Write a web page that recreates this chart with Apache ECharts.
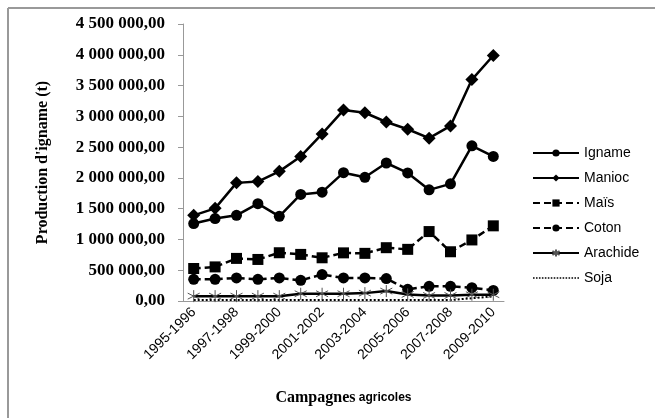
<!DOCTYPE html>
<html>
<head>
<meta charset="utf-8">
<script src="https://cdn.jsdelivr.net/npm/echarts@6/dist/echarts.min.js"></script>
<style>
  html, body { margin: 0; padding: 0; background: #fff; }
  #chart { width: 655px; height: 418px; }
</style>
</head>
<body>
<div id="chart"></div>
<script>
// Production agricole par campagne (tonnes)
const campagnes = ['1995-1996', '1996-1997', '1997-1998', '1998-1999', '1999-2000',
  '2000-2001', '2001-2002', '2002-2003', '2003-2004', '2004-2005', '2005-2006',
  '2006-2007', '2007-2008', '2008-2009', '2009-2010'];

const igname   = [1258000, 1339000, 1392000, 1581000, 1376000, 1731000, 1768000, 2085000, 2010000, 2242000, 2081000, 1806000, 1903000, 2521000, 2348000];
const manioc   = [1392000, 1505000, 1919000, 1940000, 2106000, 2348000, 2715000, 3102000, 3058000, 2908000, 2790000, 2645000, 2844000, 3597000, 3989000];
const mais     = [528000, 554000, 692000, 675000, 784000, 757000, 702000, 782000, 774000, 866000, 839000, 1128000, 800000, 992000, 1221000];
const coton    = [352000, 352000, 374000, 352000, 374000, 336000, 430000, 374000, 374000, 364000, 189000, 238000, 238000, 216000, 172000];
const arachide = [79000, 79000, 79000, 79000, 79000, 118000, 118000, 118000, 128000, 161000, 107000, 90000, 90000, 102000, 102000];
const soja     = [15000, 15000, 15000, 15000, 15000, 15000, 15000, 15000, 15000, 15000, 15000, 15000, 15000, 45000, 75000];

const yMin = 0, yMax = 4500000, yStep = 500000;

function frNumber(v) {
  const s = Math.round(v).toString().replace(/\B(?=(\d{3})+(?!\d))/g, ' ');
  return s + ',00';
}

// asterisk marker drawn as strokes only
const asterisk = 'path://M0,-6L0,6M-5.2,-3L5.2,3M-5.2,3L5.2,-3';

// dotted legend key: a row of small squares
let dots = '';
for (let i = 0; i < 16; i++) dots += 'M' + (i * 3) + ',0h1.6v1.6h-1.6z';
const dottedKey = 'path://' + dots;

const base = { type: 'line', color: '#000', animation: false };

const series = [
  Object.assign({}, base, { name: 'Igname', data: igname, symbol: 'circle', symbolSize: 11,
    lineStyle: { color: '#000', width: 2.5 }, itemStyle: { color: '#000' } }),
  Object.assign({}, base, { name: 'Manioc', data: manioc, symbol: 'diamond', symbolSize: 13,
    lineStyle: { color: '#000', width: 2.5 }, itemStyle: { color: '#000' } }),
  Object.assign({}, base, { name: 'Maïs', data: mais, symbol: 'rect', symbolSize: 11,
    lineStyle: { color: '#000', width: 2.5, type: [7, 4] }, itemStyle: { color: '#000' } }),
  Object.assign({}, base, { name: 'Coton', data: coton, symbol: 'circle', symbolSize: 11,
    lineStyle: { color: '#000', width: 2.5, type: [7, 4] }, itemStyle: { color: '#000' } }),
  Object.assign({}, base, { name: 'Arachide', data: arachide, symbol: asterisk, symbolSize: 12,
    lineStyle: { color: '#000', width: 2.5 },
    itemStyle: { color: 'none', borderColor: '#555', borderWidth: 1 } }),
  Object.assign({}, base, { name: 'Soja', data: soja, symbol: 'none',
    lineStyle: { color: '#000', width: 2, type: 'dotted' } })
];

const chart = echarts.init(document.getElementById('chart'), null, { renderer: 'canvas' });
chart.setOption({
  animation: false,
  backgroundColor: '#fff',
  graphic: [
    { type: 'line', shape: { x1: 8, y1: 8, x2: 655, y2: 8 }, style: { stroke: '#999', lineWidth: 2 } },
    { type: 'line', shape: { x1: 8, y1: 8, x2: 8, y2: 418 }, style: { stroke: '#999', lineWidth: 2 } }
  ],
  grid: { left: 183, right: 151, top: 24, bottom: 117, containLabel: false },
  legend: {
    orient: 'vertical',
    left: 532,
    top: 146,
    padding: 0,
    itemWidth: 46,
    itemHeight: 9,
    itemGap: 11,
    textStyle: { fontFamily: 'Liberation Sans', fontSize: 14, color: '#000' },
    data: ['Igname', 'Manioc', 'Maïs', 'Coton', 'Arachide', { name: 'Soja', icon: dottedKey }]
  },
  xAxis: {
    type: 'category',
    data: campagnes,
    boundaryGap: true,
    axisLine: { lineStyle: { color: '#999', width: 1 } },
    axisTick: { show: false },
    axisLabel: {
      interval: 1,
      rotate: 45,
      margin: 9,
      fontFamily: 'Liberation Sans',
      fontSize: 14,
      color: '#000'
    },
    name: '{a|Campagnes} {b|agricoles}',
    nameLocation: 'middle',
    nameGap: 89,
    nameTextStyle: {
      rich: {
        a: { fontFamily: 'Liberation Serif', fontWeight: 'bold', fontSize: 16, color: '#000' },
        b: { fontFamily: 'Liberation Sans', fontWeight: 'bold', fontSize: 12, color: '#000' }
      }
    }
  },
  yAxis: {
    type: 'value',
    min: yMin,
    max: yMax,
    interval: yStep,
    axisLine: { show: true, lineStyle: { color: '#999', width: 1 } },
    axisTick: { show: true, length: 5, lineStyle: { color: '#999' } },
    splitLine: { show: false },
    axisLabel: {
      formatter: frNumber,
      fontFamily: 'Liberation Serif',
      fontWeight: 'bold',
      fontSize: 17,
      color: '#000',
      margin: 18
    },
    name: "Production d'igname (t)",
    nameLocation: 'middle',
    nameRotate: 90,
    nameGap: 132,
    nameTextStyle: { fontFamily: 'Liberation Serif', fontWeight: 'bold', fontSize: 16, color: '#000' }
  },
  series: series
});
</script>
</body>
</html>
